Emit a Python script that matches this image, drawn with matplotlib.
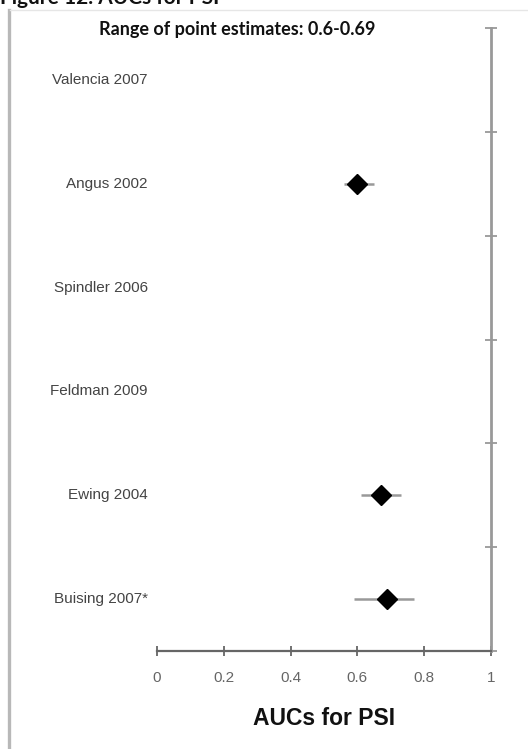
import numpy as np
import matplotlib
matplotlib.use("Agg")
import matplotlib.pyplot as plt
from matplotlib.lines import Line2D

studies = ["Valencia 2007", "Angus 2002", "Spindler 2006", "Feldman 2009", "Ewing 2004", "Buising 2007*"]
auc = [np.nan, 0.60, np.nan, np.nan, 0.67, 0.69]
ci_low = [np.nan, 0.56, np.nan, np.nan, 0.61, 0.59]
ci_high = [np.nan, 0.65, np.nan, np.nan, 0.73, 0.77]
xticks = [0, 0.2, 0.4, 0.6, 0.8, 1]
xticklabels = ["0", "0.2", "0.4", "0.6", "0.8", "1"]

W, H = 528, 749
fig = plt.figure(figsize=(W / 100, H / 100), dpi=100)

# page decorations
fig.add_artist(Line2D([8.5 / W, 8.5 / W], [0, 1 - 10 / H], color="#b8b8b8", lw=2.4))
fig.add_artist(Line2D([10 / W, 1], [1 - 10 / H, 1 - 10 / H], color="#e6e6e6", lw=1.0))
fig.text(0.0, 1 - 4 / H, "Figure 12. AUCs for PSI", fontsize=15, fontweight="bold",
         family="Lato", va="baseline", ha="left", color="#111")

ax = fig.add_axes([157 / W, 1 - 651 / H, (491 - 157) / W, (651 - 28) / H])
n = len(studies)
y = np.arange(n)[::-1] + 0.5

auc_a = np.array(auc)
lo = np.array(ci_low)
hi = np.array(ci_high)
for yi, a, l, h in zip(y, auc_a, lo, hi):
    if np.isnan(a):
        continue
    ax.plot([l, h], [yi, yi], color="#999999", lw=1.8, solid_capstyle="butt", zorder=2)
    ax.plot([a], [yi], marker="D", color="black", ms=10, mec="black", zorder=3, ls="none")

ax.set_xlim(0, 1)
ax.set_ylim(0, n)
for s in ["left", "top"]:
    ax.spines[s].set_visible(False)
ax.spines["right"].set_color("#999999")
ax.spines["right"].set_linewidth(2.0)
ax.spines["bottom"].set_color("#666666")
ax.spines["bottom"].set_linewidth(1.6)

ax.set_xticks(xticks)
ax.set_xticklabels(xticklabels, family="Liberation Sans", fontsize=11, color="#666")
ax.tick_params(axis="x", direction="inout", length=7, width=1.3, color="#666", pad=11)

ax.yaxis.set_ticks_position("right")
ax.set_yticks(np.arange(n + 1))
ax.set_yticklabels([])
ax.tick_params(axis="y", direction="inout", length=8, width=1.3, color="#999999")

for yi, name in zip(y, studies):
    ax.text(-9 / 334, yi, name, transform=ax.transData,
            ha="right", va="center", family="Liberation Sans", fontsize=11, color="#444")

ax.set_xlabel("AUCs for PSI", family="Liberation Sans", fontweight="bold", fontsize=16.5,
              color="#111", labelpad=16)

fig.text(237 / W, 1 - 30 / H, "Range of point estimates: 0.6-0.69", ha="center", va="center",
         family="Lato", fontweight="bold", fontsize=13, color="#111")

fig.savefig("out.png", dpi=100)
